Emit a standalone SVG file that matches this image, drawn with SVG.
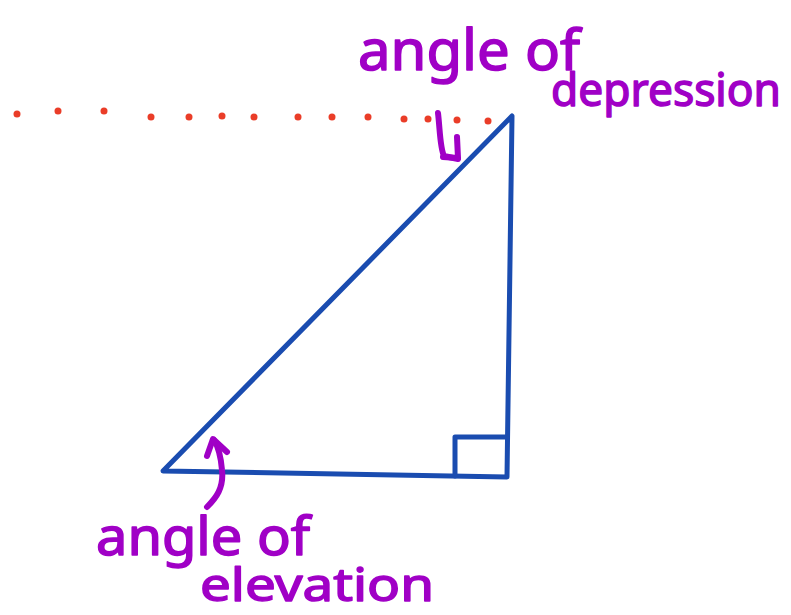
<svg xmlns="http://www.w3.org/2000/svg" width="791" height="615" viewBox="0 0 791 615">
<style>
.lbl{font-family:"Noto Sans","Liberation Sans",sans-serif;fill:#a000c6;stroke:#a000c6;stroke-width:1.5;stroke-linejoin:round}
.tri{fill:none;stroke:#1a4cb0;stroke-width:5;stroke-linejoin:round;stroke-linecap:round}
.dot{fill:#ea3d28}
.arr{fill:none;stroke:#a000c6;stroke-width:6;stroke-linecap:round;stroke-linejoin:round}
</style>
<rect width="791" height="615" fill="#ffffff"/>
<g id="horizontal-line">
<circle class="dot" cx="17" cy="114" r="3.5"/><circle class="dot" cx="58" cy="111" r="3.5"/><circle class="dot" cx="104" cy="111" r="3.5"/><circle class="dot" cx="151" cy="117" r="3.5"/><circle class="dot" cx="189" cy="117" r="3.5"/><circle class="dot" cx="222" cy="116" r="3.5"/><circle class="dot" cx="254" cy="117" r="3.5"/><circle class="dot" cx="298" cy="117" r="3.5"/><circle class="dot" cx="332" cy="117" r="3.5"/><circle class="dot" cx="368" cy="117" r="3.5"/><circle class="dot" cx="404" cy="119" r="3.5"/><circle class="dot" cx="428" cy="119" r="3.5"/><circle class="dot" cx="457" cy="120" r="3.5"/><circle class="dot" cx="488" cy="121" r="3.5"/>
</g>
<g id="triangle">
<path class="tri" d="M163 471 L512 116 L507 477 Z"/>
<path class="tri" d="M455 476 L455 437 L507 437"/>
</g>
<g id="connectors">
<path class="arr" d="M438 113 C440 130 440 148 444 156 L458 159"/>
<path class="arr" d="M457 137 L458 158 L443 157"/>
<path class="arr" d="M207 507 C216 498 224 488 222 470 C221 458 219 448 214 440"/>
<path class="arr" d="M207 456 L213 439 L227 452"/>
</g>
<g id="label-depression">
<text class="lbl" x="358" y="70" font-size="56" textLength="222" lengthAdjust="spacingAndGlyphs">angle of</text>
<text class="lbl" x="551" y="106" font-size="46" textLength="230" lengthAdjust="spacingAndGlyphs">depression</text>
</g>
<g id="label-elevation">
<text class="lbl" x="96" y="555" font-size="52" textLength="214" lengthAdjust="spacingAndGlyphs">angle of</text>
<text class="lbl" x="200" y="601" font-size="46" textLength="234" lengthAdjust="spacingAndGlyphs">elevation</text>
</g>
</svg>
